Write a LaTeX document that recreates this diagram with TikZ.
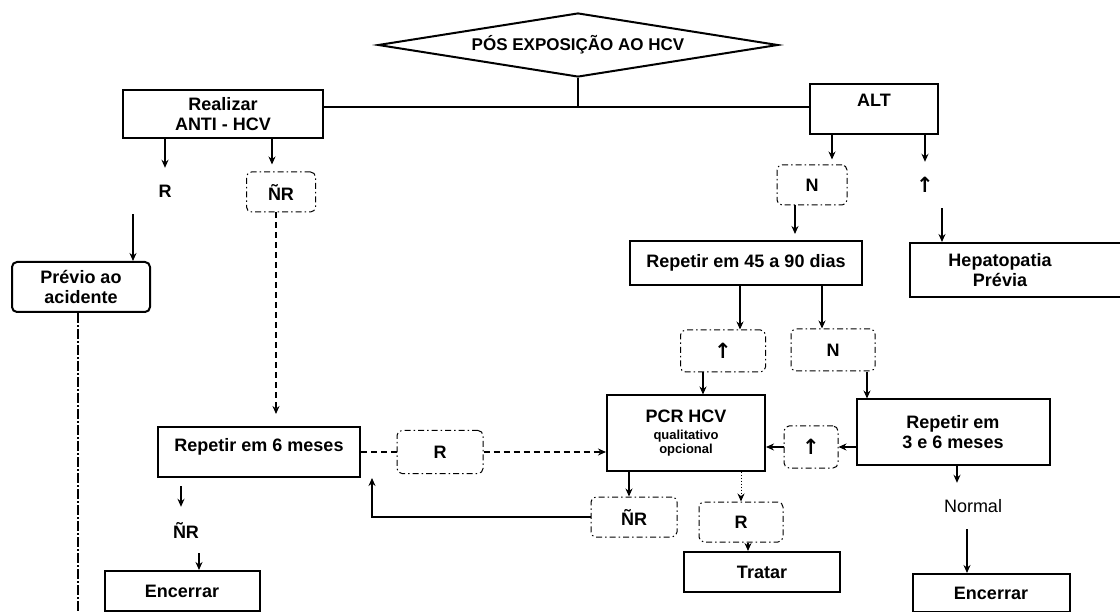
\documentclass[tikz,border=0pt]{standalone}
\usepackage{fontspec}
\setmainfont{Liberation Sans}
\newfontfamily\arrowfont{DejaVu Sans}
\usepackage{tikz}
\usetikzlibrary{positioning,arrows.meta,shapes.geometric}
\newcommand{\uparr}{{\arrowfont\bfseries\fontsize{21}{21}\selectfont ↑}}

\begin{document}
\begin{tikzpicture}[
    x=1pt, y=-1pt,
    box/.style={draw, line width=2pt, font=\fontsize{18}{20}\selectfont\bfseries,
                align=center, inner sep=2pt},
    dbox/.style={draw, line width=1pt, rounded corners=5pt,
                 dash pattern=on 6pt off 3pt on 1.5pt off 3pt,
                 font=\fontsize{18}{20}\selectfont\bfseries, inner sep=2pt},
    lbl/.style={font=\fontsize{18}{20}\selectfont\bfseries, minimum height=46pt, inner sep=0pt},
    arr/.style={line width=1.6pt, -{Stealth[length=8pt,width=7pt]}},
    lnk/.style={line width=1.6pt},
    dlnk/.style={line width=1.6pt, dash pattern=on 6pt off 4pt}
  ]
  \useasboundingbox (0,0) rectangle (1120,612);

  % --- Top ---
  \node[draw, diamond, aspect=6.5, minimum width=400, minimum height=64,
        line width=2pt, font=\fontsize{17}{19}\selectfont\bfseries, inner sep=1pt]
    (title) at (578,45) {PÓS EXPOSIÇÃO AO HCV};
  \coordinate (hub) at (590,107);
  \node[box, minimum width=200, minimum height=48] (realizar) at (223,114)
    {Realizar\\ANTI - HCV};
  \node[box, minimum width=128, minimum height=50, text depth=18pt] (alt) at (874,109) {ALT};
  \draw[lnk] (title.south) -- (title.south |- hub);
  \draw[lnk] (realizar.east |- hub) -- (alt.west |- hub);

  % --- Left branch (anti-HCV) ---
  \node[lbl] (rlbl) at (165,191) {R};
  \node[dbox, minimum width=69, minimum height=40] (nr1) at (281,192) {ÑR};
  \draw[arr] (realizar.south -| rlbl) -- (rlbl.north);
  \draw[arr, shorten >=7pt] ([xshift=-9pt]nr1.north |- realizar.south) -- ([xshift=-9pt]nr1.north);
  \node[box, rounded corners=5pt, minimum width=138, minimum height=50] (prev) at (81,287)
    {Prévio ao\\acidente};
  \draw[arr] ([xshift=-32pt]rlbl.south) -- ([xshift=-32pt]rlbl.south |- prev.north);
  \coordinate (bot) at (78,620);
  \draw[line width=1.2pt, dash pattern=on 10pt off 2pt on 2pt off 2pt]
    ([xshift=-3pt]prev.south) -- (bot);
  \node[box, minimum width=202, minimum height=50, text depth=14pt] (rep6) at (259,452)
    {Repetir em 6 meses};
  \draw[dlnk, -{Stealth[length=8pt,width=7pt]}, shorten >=12pt]
    ([xshift=-5pt]nr1.south) -- ([xshift=-5pt]nr1.south |- rep6.north);
  \node[dbox, minimum width=86, minimum height=43] (r1) at (440,452) {R};
  \draw[dlnk] (rep6.east |- r1) -- (r1.west);
  \node[lbl] (nrlbl) at (186,530) {ÑR};
  \draw[arr, shorten <=8pt] ([xshift=-5pt]nrlbl.north |- rep6.south) -- ([xshift=-5pt]nrlbl.north);
  \node[box, minimum width=155, minimum height=40] (enc1) at (182,591) {Encerrar};
  \draw[arr] ([xshift=13pt]nrlbl.south) -- ([xshift=13pt]nrlbl.south |- enc1.north);

  % --- PCR ---
  \node[box, minimum width=158, minimum height=75] (pcr) at (686,433)
    {PCR HCV\\[-3pt]{\fontsize{13}{14}\selectfont qualitativo}\\[-6pt]{\fontsize{13}{14}\selectfont opcional}};
  \draw[dlnk, -{Stealth[length=8pt,width=7pt]}] (r1.east) -- (r1.east -| pcr.west);

  % --- Right branch (ALT) ---
  \node[dbox, minimum width=70, minimum height=40] (n1) at (812,185) {N};
  \node[lbl] (uplbl) at (925,185) {\uparr};
  \draw[arr, shorten >=5pt] ([xshift=20pt]n1.north |- alt.south) -- ([xshift=20pt]n1.north);
  \draw[arr] (uplbl.north |- alt.south) -- (uplbl.north);
  \node[box, minimum width=232, minimum height=44] (rep45) at (746,263) {Repetir em 45 a 90 dias};
  \draw[arr, shorten >=6pt] ([xshift=-17pt]n1.south) -- ([xshift=-17pt]n1.south |- rep45.north);
  \node[box, minimum width=215, minimum height=54] (hepat) at (1017,270) {};
  \node[font=\fontsize{18}{20}\selectfont\bfseries, align=center] (hepattxt) at (1000,270)
    {Hepatopatia\\Prévia};
  \draw[arr] ([xshift=17pt]uplbl.south) -- ([xshift=17pt]uplbl.south |- hepat.north);
  \node[dbox, minimum width=85, minimum height=42] (up1) at (723,351) {\uparr};
  \node[dbox, minimum width=84, minimum height=42] (n2) at (833,350) {N};
  \draw[arr] ([xshift=17pt]up1.north |- rep45.south) -- ([xshift=17pt]up1.north);
  \draw[arr] ([xshift=-11pt]n2.north |- rep45.south) -- ([xshift=-11pt]n2.north);
  \draw[arr] ([xshift=-20pt]up1.south) -- ([xshift=-20pt]up1.south |- pcr.north);
  \node[box, minimum width=193, minimum height=65] (rep36) at (953,432) {Repetir em\\3 e 6 meses};
  \coordinate (fromn) at (867,372);
  \draw[arr] (fromn) -- (fromn |- rep36.north);
  \node[dbox, minimum width=54, minimum height=42] (up2) at (811,447) {\uparr};
  \draw[arr] (rep36.west |- up2) -- (up2.east);
  \draw[arr] (up2.west) -- (up2.west -| pcr.east);
  \node[lbl, font=\fontsize{18}{20}\selectfont] (normlbl) at (973,506) {Normal};
  \draw[arr] ([xshift=-16pt]normlbl.north |- rep36.south) -- ([xshift=-16pt]normlbl.north);
  \node[box, minimum width=157, minimum height=38] (enc2) at (991,593) {Encerrar};
  \draw[arr] ([xshift=-6pt]normlbl.south) -- ([xshift=-6pt]normlbl.south |- enc2.north);

  % --- PCR results ---
  \node[dbox, minimum width=86, minimum height=40] (nr2) at (634,517) {ÑR};
  \node[dbox, minimum width=84, minimum height=40] (r2) at (741,522) {R};
  \node[box, minimum width=156, minimum height=40] (trat) at (762,572) {Tratar};
  \draw[arr] ([xshift=-5pt]nr2.north |- pcr.south) -- ([xshift=-5pt]nr2.north);
  \draw[arr] (nr2.west) -| ([xshift=113pt]rep6.south);
  \draw[line width=1pt, dotted, -{Stealth[length=8pt,width=7pt]}] (r2.north |- pcr.south) -- (r2.north);
  \draw[arr] ([xshift=7pt]r2.south) -- ([xshift=7pt]r2.south |- trat.north);
\end{tikzpicture}
\end{document}
